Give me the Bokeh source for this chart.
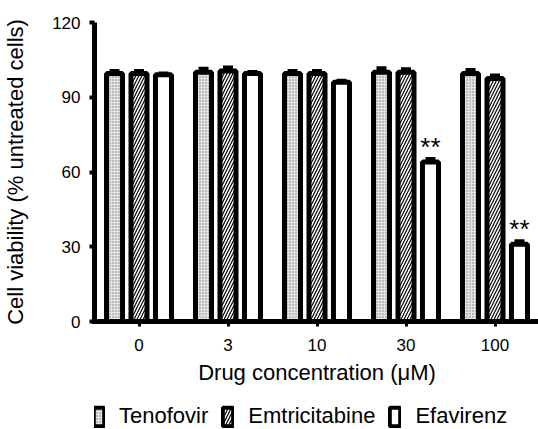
from bokeh.plotting import figure
from bokeh.layouts import column
from bokeh.models import (FactorRange, Range1d, FixedTicker, Legend, LegendItem,
                          Whisker, ColumnDataSource, TeeHead)
from bokeh.transform import dodge
from bokeh.core.properties import value
from bokeh.embed import file_html
from bokeh.resources import INLINE

# ---- data ----
concentrations = ["0", "3", "10", "30", "100"]
series_names = ["Tenofovir", "Emtricitabine", "Efavirenz"]
tenofovir = [99.5, 100.0, 99.5, 100.0, 99.5]
emtricitabine = [99.5, 100.5, 99.5, 100.0, 97.5]
efavirenz = [99.0, 99.5, 96.0, 64.0, 31.0]
tenofovir_sd = [0.8, 1.2, 0.8, 1.4, 1.2]
emtricitabine_sd = [0.8, 1.2, 0.8, 1.0, 1.0]
efavirenz_sd = [0.3, 0.4, 0.4, 1.0, 1.0]
significance = ["", "", "", "**", "**"]
y_ticks = [0, 30, 60, 90, 120]

FONT = "Liberation Sans"
OFF = 0.275
BW = 0.18

styles = [
    dict(fill_color="#e4e4e4", hatch_pattern="dot", hatch_color="#7a7a7a",
         hatch_scale=3, hatch_weight=1),
    dict(fill_color="white", hatch_pattern="right_diagonal_line",
         hatch_color="black", hatch_scale=6, hatch_weight=1.2),
    dict(fill_color="white"),
]

src = ColumnDataSource(dict(
    conc=concentrations,
    ten=tenofovir, emt=emtricitabine, efa=efavirenz,
    ten_hi=[v + e for v, e in zip(tenofovir, tenofovir_sd)],
    emt_hi=[v + e for v, e in zip(emtricitabine, emtricitabine_sd)],
    efa_hi=[v + e for v, e in zip(efavirenz, efavirenz_sd)],
    sig=significance,
    sig_y=[v + e + 5.0 for v, e in zip(efavirenz, efavirenz_sd)],
))

p = figure(x_range=FactorRange(*concentrations, range_padding=0),
           y_range=Range1d(0, 120),
           frame_width=445, frame_height=299,
           min_border_left=93, min_border_right=0,
           min_border_top=22, min_border_bottom=80,
           output_backend="svg", toolbar_location=None)

p.outline_line_color = None
p.xgrid.visible = False
p.ygrid.visible = False
p.background_fill_color = "white"
p.border_fill_color = "white"

common = dict(width=BW, source=src, line_color="black", line_width=5)
for off, col, st in zip([-OFF, 0, OFF], ["ten", "emt", "efa"], styles):
    p.vbar(x=dodge("conc", off, range=p.x_range), top=col, **st, **common)

for off, lo, hi in [(-OFF, "ten", "ten_hi"), (0, "emt", "emt_hi"), (OFF, "efa", "efa_hi")]:
    w = Whisker(base=dodge("conc", off, range=p.x_range), lower=lo, upper=hi,
                source=src, line_width=5, line_color="black",
                upper_head=TeeHead(size=10, line_width=5, line_color="black"),
                lower_head=None)
    p.add_layout(w)

p.text(x=dodge("conc", OFF, range=p.x_range), y="sig_y", text="sig", source=src,
       text_align="center", text_baseline="alphabetic",
       text_font=value(FONT), text_font_size="26px", text_color="black")

# axes
p.yaxis.ticker = FixedTicker(ticks=y_ticks)
p.yaxis.minor_tick_line_color = None
for ax in (p.xaxis, p.yaxis):
    ax.axis_line_width = 5
    ax.axis_line_color = "black"
    ax.major_tick_line_color = "black"
    ax.major_tick_in = 0
    ax.major_tick_out = 5
    ax.major_tick_line_width = 4
    ax.major_label_text_font = FONT
    ax.major_label_text_font_size = "17px"
    ax.major_label_text_color = "black"
    ax.axis_label_text_font = FONT
    ax.axis_label_text_font_size = "22px"
    ax.axis_label_text_font_style = "normal"
    ax.axis_label_text_color = "black"
p.xaxis.major_tick_line_width = 3
p.yaxis.major_label_standoff = 9
p.xaxis.major_label_standoff = 12
p.yaxis.axis_label = "Cell viability (% untreated cells)"
p.xaxis.axis_label = "Drug concentration (\u03bcM)"
p.yaxis.axis_label_standoff = 21
p.xaxis.axis_label_standoff = 6
p.xaxis.axis_line_cap = "square"

# legend strip below the chart
lf = figure(width=538, height=28, x_range=Range1d(0, 1), y_range=Range1d(0, 1),
            min_border=0, x_axis_location=None, y_axis_location=None,
            output_backend="svg", toolbar_location=None)
lf.outline_line_color = None
lf.xgrid.visible = False
lf.ygrid.visible = False
items = []
for name, st in zip(series_names, styles):
    r = lf.vbar(x=[0.5], top=[0.5], bottom=[0.4], width=0.01, line_color="black",
                line_width=4, visible=False, **st)
    items.append(LegendItem(label=name, renderers=[r]))
legend = Legend(items=items, orientation="horizontal", location=(-2, 0),
                glyph_width=13, glyph_height=23, label_standoff=14, spacing=13,
                label_text_font=FONT, label_text_font_size="22px",
                label_text_color="black", border_line_alpha=0,
                background_fill_alpha=0, padding=0, margin=0)
lf.add_layout(legend, "center")

layout = column(p, lf, spacing=0)
open("out.html", "w").write(file_html(layout, INLINE))
